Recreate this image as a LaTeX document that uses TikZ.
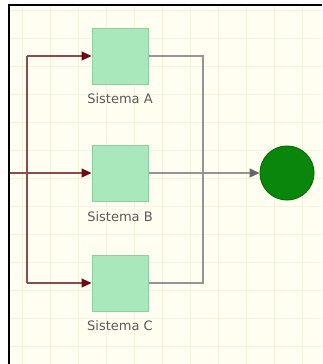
\documentclass[tikz,border=0pt]{standalone}
\usepackage{fontspec}
\setmainfont{DejaVu Sans}
\definecolor{mycream}{HTML}{FFFEF0}
\definecolor{mygrid}{HTML}{F5F3E0}
\definecolor{mygreen}{HTML}{A8E8BA}
\definecolor{mygreenline}{HTML}{8ECFA0}
\definecolor{mydarkgreen}{HTML}{0A870A}
\definecolor{myred}{HTML}{8A4C4C}
\definecolor{myredtip}{HTML}{6A0A14}
\definecolor{mygray}{HTML}{959595}
\definecolor{mytext}{HTML}{5A5A5A}
\usepackage{tikz}
\usetikzlibrary{positioning, calc, arrows.meta}
\tikzset{
	sysnode/.style={
			rectangle,
			draw=mygreenline,
			fill=mygreen,
			line width=1pt,
			minimum size=56pt,
			inner sep=0pt
		},
	endnode/.style={
			circle,
			draw=mydarkgreen!80!black,
			fill=mydarkgreen,
			line width=1pt,
			minimum size=54pt,
			inner sep=0pt
		},
	labelnode/.style={
			text=mytext,
			font=\fontsize{13}{15}\selectfont,
			inner sep=0pt
		},
	inline/.style={
			myred,
			line width=1.2pt
		},
	outline/.style={
			mygray,
			line width=1.2pt
		},
	redtip/.style={
			-{Triangle[length=10pt, width=9pt, color=myredtip, fill=myredtip]}
		}
}

\begin{document}
\begin{tikzpicture}[x=1pt, y=-1pt]
\useasboundingbox (0,0) rectangle (322,364);
\fill[white] (0,0) rectangle (322,364);
\fill[mycream] (9,5) rectangle (322,364);
\begin{scope}
\clip (9,5) rectangle (322,364);
\foreach \x in {22,50,...,322} \draw[mygrid, line width=1pt] (\x,5) -- (\x,364);
\foreach \y in {10,38,...,364} \draw[mygrid, line width=1pt] (9,\y) -- (322,\y);
\end{scope}
\draw[black, line width=2pt] (9,364) -- (9,5) -- (322,5);

\node[sysnode] (sA) at (120,56)  {};
\node[sysnode] (sB) at (120,173) {};
\node[sysnode] (sC) at (120,283) {};
\node[endnode] (out) at (287,173) {};

\node[labelnode] (lA) at (120,99)  {Sistema A};
\node[labelnode] (lB) at (120,217) {Sistema B};
\node[labelnode] (lC) at (120,326) {Sistema C};

\coordinate (in) at (10,173);
\coordinate (splitA) at (27,56);
\coordinate (splitB) at (27,173);
\coordinate (splitC) at (27,283);
\coordinate (joinA) at (203,56);
\coordinate (joinC) at (203,283);

% entrada
\draw[inline] (splitA) -- (splitC);
\draw[inline] (in) -- (splitB);
\draw[inline, redtip] (splitA) -- (sA);
\draw[inline, redtip] (splitB) -- (sB);
\draw[inline, redtip] (splitC) -- (sC);

% salida
\draw[outline] (sA) -- (joinA) -- (joinC) -- (sC);
\draw[outline, -{Triangle[length=10pt, width=9pt, color=gray!80!black, fill=gray!80!black]}] (sB) -- (out);
\end{tikzpicture}
\end{document}
